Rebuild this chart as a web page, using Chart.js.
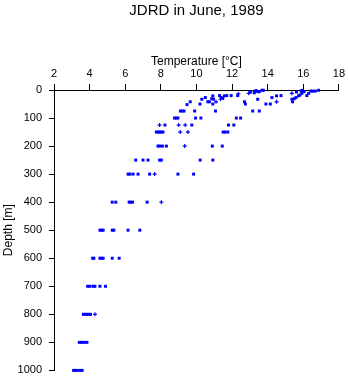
<!DOCTYPE html>
<html>
<head>
<meta charset="utf-8">
<script src="https://cdn.jsdelivr.net/npm/chart.js@4"></script>
<style>
  html, body { margin: 0; padding: 0; background: #fff; }
  #wrap { width: 348px; height: 384px; }
</style>
</head>
<body>
<div id="wrap"><canvas id="profile" width="348" height="384"></canvas></div>
<script>
// temperature [°C] / depth [m] samples (square markers)
const sqTemp = [
  13.03, 13.25, 13.25, 13.35, 13.44, 13.53, 13.68, 13.76,
  15.62, 15.87, 15.96, 16.05, 16.43, 16.52, 16.67, 16.86,
  12.32, 11.3, 11.57, 11.7, 11.95, 10.92, 11.39, 11.48, 10.5, 10.86, 10.96, 10.3,
  14.5, 14.75, 15.73, 15.81, 15.92, 16.2, 16.3, 15.59, 15.49, 15.36, 14.24,
  9.65, 10.64, 10.73, 12.7, 15.4,
  9.47, 10.2, 10.92, 12.75, 13.9, 14.15, 13.44,
  9.1, 9.2, 9.3, 9.9, 11.07, 13.16, 13.53,
  8.77, 8.87, 8.96, 9.95, 10.25, 12.24, 12.48,
  8.23, 9.74, 11.8, 12.1,
  7.75, 7.84, 7.93, 8.03, 8.12, 11.5, 11.6, 11.76,
  7.84, 7.93, 8.09, 8.31, 10.89, 11.45,
  6.59, 7.0, 7.28, 7.93, 8.03, 10.21, 10.92,
  6.16, 6.26, 6.44, 6.72, 7.37, 8.96, 9.84,
  5.27, 5.47, 6.22, 6.3, 6.41, 7.23,
  4.58, 4.67, 4.76, 5.27, 5.36, 6.16, 6.82,
  4.17, 4.24, 4.58, 4.67, 4.76, 5.27, 5.66,
  3.89, 4.02, 4.2, 4.3, 4.58, 4.89,
  3.65, 3.75, 3.85, 3.95, 4.05,
  3.42, 3.55, 3.7, 3.85,
  3.1, 3.2, 3.3, 3.45, 3.58
];
const sqDepth = [
  7, 5, 10, 2, 6, 6, 1, 1,
  7, 3, 1, 6, 4, 4, 4, 1,
  20, 20, 21, 20, 20, 21, 27, 30, 27, 31, 33, 33,
  21, 20, 21, 18, 12, 20, 12, 27, 31, 33, 27,
  42, 42, 42, 42, 42,
  52, 50, 50, 50, 50, 50, 33,
  75, 75, 75, 75, 75, 75, 75,
  100, 100, 100, 100, 100, 100, 100,
  125, 125, 125, 125,
  150, 150, 150, 150, 150, 150, 150, 150,
  200, 200, 200, 200, 200, 200,
  250, 250, 250, 250, 250, 250, 250,
  300, 300, 300, 300, 300, 300, 300,
  400, 400, 400, 400, 400, 400,
  500, 500, 500, 500, 500, 500, 500,
  600, 600, 600, 600, 600, 600, 600,
  700, 700, 700, 700, 700, 700,
  800, 800, 800, 800, 800,
  900, 900, 900, 900,
  1000, 1000, 1000, 1000, 1000
];

// samples drawn with a "+" marker
const crossTemp  = [12.35, 12.94, 15.36, 11.1, 11.35, 14.5, 7.93, 9.0, 9.37, 9.09, 9.52, 9.34, 7.65, 8.03, 4.3];
const crossDepth = [14, 12, 12, 42, 33, 42, 125, 125, 125, 150, 150, 200, 300, 400, 800];

const tempTicks = [2, 4, 6, 8, 10, 12, 14, 16, 18];
const depthTicks = [0, 100, 200, 300, 400, 500, 600, 700, 800, 900, 1000];

const toPoints = (xs, ys) => xs.map((t, i) => ({ x: t, y: ys[i] }));

const FONT = "'Liberation Sans', Arial, Helvetica, sans-serif";
const BLUE = "#0000ff";

new Chart(document.getElementById("profile").getContext("2d"), {
  type: "scatter",
  data: {
    datasets: [
      {
        data: toPoints(sqTemp, sqDepth),
        pointStyle: "rect",
        radius: 2.1,
        backgroundColor: BLUE,
        borderWidth: 0,
        clip: false
      },
      {
        data: toPoints(crossTemp, crossDepth),
        pointStyle: "cross",
        radius: 2,
        borderColor: BLUE,
        borderWidth: 1.2,
        clip: false
      }
    ]
  },
  options: {
    responsive: false,
    animation: false,
    events: [],
    layout: { padding: { left: 0, right: 8, top: 0, bottom: 8.7 } },
    plugins: {
      legend: { display: false },
      tooltip: { enabled: false },
      title: {
        display: true,
        fullSize: false,   // centre over the plot area, not the canvas
        text: "JDRD in June, 1989",
        color: "#000",
        font: { family: FONT, size: 15, weight: "normal" },
        padding: { top: 2, bottom: 0 }
      }
    },
    scales: {
      x: {
        type: "linear",
        position: "top",
        min: 2,
        max: 18,
        afterBuildTicks: (s) => { s.ticks = tempTicks.map(v => ({ value: v })); },
        afterFit: (s) => { s.height = 70; },
        grid: { drawOnChartArea: false, drawTicks: true, tickLength: 6, color: "#000", lineWidth: 1 },
        border: { display: true, color: "#000", width: 1 },
        ticks: { color: "#000", font: { family: FONT, size: 11 }, padding: 3, maxRotation: 0 },
        title: {
          display: true,
          text: "Temperature [°C]",
          color: "#000",
          font: { family: FONT, size: 12 },
          padding: { top: 34, bottom: 0 }
        }
      },
      y: {
        type: "linear",
        reverse: true,
        min: 0,
        max: 1000,
        afterBuildTicks: (s) => { s.ticks = depthTicks.map(v => ({ value: v })); },
        afterFit: (s) => { s.width = 54; },
        grid: { drawOnChartArea: false, drawTicks: true, tickLength: 5, color: "#000", lineWidth: 1 },
        border: { display: true, color: "#000", width: 1 },
        ticks: { color: "#000", font: { family: FONT, size: 11 }, padding: 7, callback: (v) => String(v) },
        title: {
          display: true,
          text: "Depth [m]",
          color: "#000",
          font: { family: FONT, size: 12 },
          padding: { top: 1, bottom: 0 }
        }
      }
    }
  }
});
</script>
</body>
</html>
